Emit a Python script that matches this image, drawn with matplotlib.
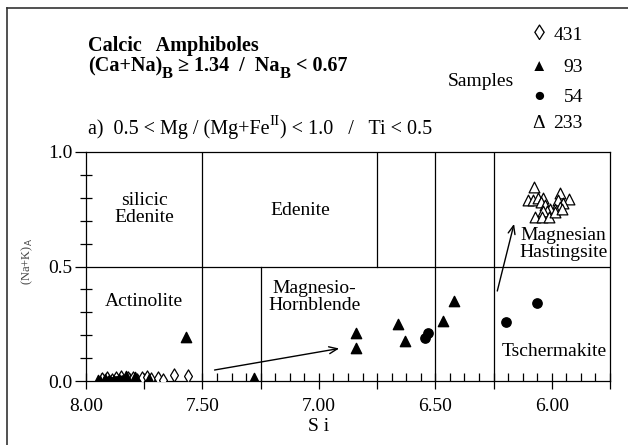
import matplotlib
matplotlib.use("Agg")
import matplotlib.pyplot as plt
from matplotlib.ticker import MultipleLocator, FuncFormatter
from matplotlib.lines import Line2D

plt.rcParams['font.family'] = ['Liberation Serif', 'DejaVu Sans']

# samples (Si, (Na+K)A)
si_431 = [7.93, 7.91, 7.89, 7.87, 7.85, 7.83, 7.82, 7.80, 7.78, 7.76,
          7.74, 7.72, 7.69, 7.67, 7.62, 7.56, 7.78]
na_431 = [0.010, 0.015, 0.005, 0.012, 0.018, 0.008, 0.012, 0.015, 0.005, 0.015,
          0.018, 0.010, 0.012, 0.005, 0.025, 0.022, -0.005]

si_93 = [7.95, 7.94, 7.92, 7.90, 7.88, 7.86, 7.83, 7.79, 7.73, 7.57,
         7.28, 6.84, 6.84, 6.66, 6.63, 6.465, 6.42]
na_93 = [0.005, 0.0, 0.010, 0.003, 0.0, 0.008, 0.020, 0.018, 0.010, 0.193,
         0.012, 0.210, 0.145, 0.248, 0.175, 0.260, 0.350]

si_54 = [7.90, 7.87, 7.84, 6.543, 6.532, 6.197, 6.064]
na_54 = [0.002, 0.0, 0.004, 0.188, 0.210, 0.258, 0.342]

si_233 = [6.075, 6.101, 6.079, 6.060, 6.036, 6.046, 6.029, 5.964, 5.974, 5.928,
          5.950, 5.964, 5.986, 6.007, 6.022, 6.036, 6.072, 6.043, 6.014, 5.986, 5.957]
na_233 = [0.845, 0.791, 0.791, 0.797, 0.797, 0.783, 0.768, 0.823, 0.791, 0.794,
          0.777, 0.758, 0.751, 0.751, 0.743, 0.743, 0.714, 0.714, 0.714, 0.736, 0.751]

# field boundaries: (Si, y from, y to)
v_lines = [(7.50, 0.0, 1.0), (7.25, 0.0, 0.5), (6.75, 0.5, 1.0),
           (6.50, 0.0, 1.0), (6.25, 0.0, 1.0)]
h_line = 0.5

fields = [("silicic\nEdenite", 7.75, 0.75), ("Edenite", 7.08, 0.745),
          ("Actinolite", 7.75, 0.345), ("Magnesio-\nHornblende", 7.02, 0.365),
          ("Magnesian\nHastingsite", 5.95, 0.60), ("Tschermakite", 5.99, 0.127)]

# trend arrows (from, to)
arrows = [((7.448, 0.048), (6.913, 0.142)), ((6.234, 0.393), (6.162, 0.686))]

legend_syms = ["\u25CA", "\u25B2", "\u25CF", "\u0394"]
legend_nums = ["431", "93", "54", "233"]

W, H = 628, 445
fig = plt.figure(figsize=(W / 100, H / 100), dpi=100)
ax = fig.add_axes([86 / W, 1 - 381 / H, (610 - 86) / W, (381 - 152) / H])
renderer = fig.canvas.get_renderer()


def chain_text(x, y, pieces):
    # pieces: (text, fontsize, weight, dy in pixels); x, y in pixels from top-left
    for txt, fs, wt, dy in pieces:
        t = fig.text(x / W, 1 - (y + dy) / H, txt, fontsize=fs, fontweight=wt,
                     va='baseline', ha='left')
        bb = t.get_window_extent(renderer)
        x += bb.width


lw = 0.9
for x, y0, y1 in v_lines:
    ax.plot([x, x], [y0, y1], color='black', lw=lw)
ax.plot([8.0, 5.75], [h_line, h_line], color='black', lw=lw)

ax.scatter(si_431, na_431, marker='d', s=45, facecolors='white', edgecolors='black', linewidths=0.9, zorder=3)
ax.scatter(si_93, na_93, marker='^', s=55, color='black', zorder=4)
ax.scatter(si_54, na_54, marker='o', s=45, color='black', zorder=4)
ax.scatter(si_233, na_233, marker='^', s=60, facecolors='white', edgecolors='black', linewidths=0.9, zorder=3)

for (x0, y0), (x1, y1) in arrows:
    ax.annotate("", xy=(x1, y1), xytext=(x0, y0),
                arrowprops=dict(arrowstyle='->,head_length=0.6,head_width=0.25', lw=1.0, color='black',
                                shrinkA=0, shrinkB=0))

for txt, x, y in fields:
    ax.text(x, y, txt, ha='center', va='center', fontsize=14, linespacing=1.0, zorder=5)

ax.set_xlim(8.0, 5.75)
ax.set_ylim(0.0, 1.0)
for sp in ax.spines.values():
    sp.set_linewidth(lw)

ax.xaxis.set_major_locator(MultipleLocator(0.25))
ax.xaxis.set_minor_locator(MultipleLocator(0.0625))
ax.xaxis.set_major_formatter(FuncFormatter(
    lambda v, p: "%.2f" % v if abs(v * 2 - round(v * 2)) < 1e-6 else ""))
ax.yaxis.set_major_locator(MultipleLocator(0.5))
ax.yaxis.set_minor_locator(MultipleLocator(0.1))
ax.yaxis.set_major_formatter(FuncFormatter(lambda v, p: "%.1f" % v))

ax.tick_params(axis='x', which='major', direction='inout', length=12, width=lw, labelsize=14, pad=6)
ax.tick_params(axis='x', which='minor', direction='in', length=6, width=lw)
ax.tick_params(axis='y', which='major', direction='out', length=8, width=lw, labelsize=14, pad=2)
ax.tick_params(axis='y', which='minor', direction='inout', length=8, width=lw)

ax.text(7.0, -0.2, "S i", ha='center', va='center', fontsize=14)
fig.text(27 / W, 1 - 261 / H, r"(Na+K)$_{\rm A}$", rotation=90, ha='center', va='center',
         fontsize=9, color='#444444')

# header text
fig.text(88 / W, 1 - 51 / H, "Calcic   Amphiboles", fontsize=14.5, fontweight='bold', va='baseline')
chain_text(88, 71, [("(Ca+Na)", 14.5, 'bold', 0), ("B", 12, 'bold', 7),
                    (" \u2265 1.34  /  Na", 14.5, 'bold', 0), ("B", 12, 'bold', 7),
                    (" < 0.67", 14.5, 'bold', 0)])
chain_text(88, 134, [("a)  0.5 < Mg / (Mg+Fe", 14.5, 'normal', 0), ("II", 11, 'normal', -9),
                     (") < 1.0   /   Ti < 0.5", 14.5, 'normal', 0)])

# legend
fig.text(481 / W, 1 - 82 / H, "Samples", fontsize=14, ha='center', va='center')
for i, (sym, num) in enumerate(zip(legend_syms, legend_nums)):
    yy = [36, 67, 97, 124][i]
    fs = {"\u25CA": 16, "\u25B2": 12, "\u25CF": 14, "\u0394": 14}[sym]
    fig.text(539 / W, 1 - yy / H, sym, fontsize=fs, ha='center', va='center')
    fig.text(583 / W, 1 - yy / H, num, fontsize=14, ha='right', va='center')

# frame around figure (top and left edges visible)
fig.add_artist(Line2D([7 / W, 7 / W], [0, 1 - 8 / H], color='#333333', lw=1.2))
fig.add_artist(Line2D([7 / W, 1], [1 - 8 / H, 1 - 8 / H], color='#333333', lw=1.2))

fig.savefig("out.png", dpi=100)
